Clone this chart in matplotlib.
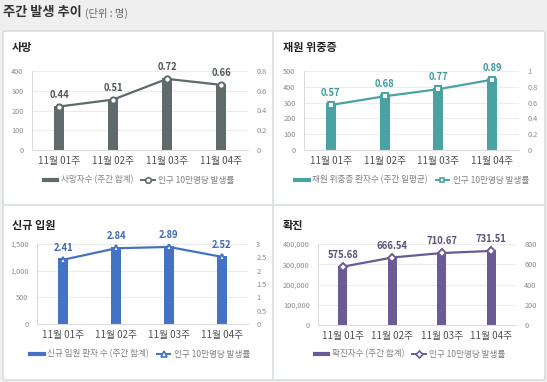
import matplotlib.pyplot as plt
from matplotlib.patches import FancyBboxPatch
from matplotlib.lines import Line2D
from matplotlib.ticker import FuncFormatter, MultipleLocator

plt.rcParams['font.family'] = ['Noto Sans CJK KR', 'DejaVu Sans']

W, H = 547, 382

weeks = ['11월 01주', '11월 02주', '11월 03주', '11월 04주']

death_cnt = [222, 258, 363, 332]
death_rate = [0.44, 0.51, 0.72, 0.66]

icu_cnt = [295, 355, 395, 458]
icu_rate = [0.57, 0.68, 0.77, 0.89]

adm_cnt = [1240, 1445, 1465, 1280]
adm_rate = [2.41, 2.84, 2.89, 2.52]

conf_cnt = [293000, 338000, 360000, 370000]
conf_rate = [575.68, 666.54, 710.67, 731.51]

fig = plt.figure(figsize=(W / 100, H / 100), dpi=100)
fig.patch.set_facecolor('#efefef')


def fx(x):
    return x / W


def fy(y):
    return 1 - y / H


# white board with dividers (kept under the axes)
board = FancyBboxPatch((fx(3), fy(380)), fx(542), (380 - 31) / H,
                       boxstyle='round,pad=0,rounding_size=0.006',
                       transform=fig.transFigure, facecolor='white',
                       edgecolor='#cfd6da', linewidth=1.0, zorder=-10)
fig.patches.append(board)
fig.add_artist(Line2D([fx(273), fx(273)], [fy(31), fy(380)], color='#dde2e5',
                      lw=1.5, zorder=-5))
fig.add_artist(Line2D([fx(3), fx(545)], [fy(205), fy(205)], color='#dde2e5',
                      lw=1.5, zorder=-5))

# header
fig.text(fx(3), fy(12), '주간 발생 추이', fontsize=9.5, fontweight='bold',
         color='#333333', va='center', ha='left')
fig.text(fx(85), fy(13), '(단위 : 명)', fontsize=7.4, color='#666666',
         va='center', ha='left')


def panel(title, tx, ty, box, cnt, rate, ymax, ystep, rmax, rstep,
          color, lblcolor, marker, msize, bar_label, leg_xy, rfmt):
    x0, x1, y0, y1 = box
    fig.text(fx(tx), fy(ty), title, fontsize=8, fontweight='bold',
             color='#222222', va='center', ha='left')
    ax = fig.add_axes([fx(x0), fy(y1), (x1 - x0) / W, (y1 - y0) / H])
    ax.patch.set_alpha(0)
    pos = list(range(len(weeks)))
    ax.bar(pos, cnt, width=0.19, color=color, zorder=2)
    ax.set_xlim(-0.5, len(weeks) - 0.5)
    ax.set_ylim(0, ymax)
    ax.yaxis.set_major_locator(MultipleLocator(ystep))
    ax.yaxis.set_major_formatter(FuncFormatter(lambda v, p: f'{v:,.0f}'))
    ax.grid(axis='y', color='#ececec', lw=0.8, zorder=0)
    ax.set_xticks(pos)
    ax.set_xticklabels(weeks, fontsize=7, color='#505050')
    ax.tick_params(axis='y', labelsize=5.3, colors='#8a8a8a', length=0, pad=6)
    ax.tick_params(axis='x', length=0, pad=4)
    for s in ['top', 'right']:
        ax.spines[s].set_visible(False)
    for s in ['left', 'bottom']:
        ax.spines[s].set_color('#dcdcdc')
        ax.spines[s].set_linewidth(0.8)

    ax2 = ax.twinx()
    ax2.set_ylim(0, rmax)
    ax2.yaxis.set_major_locator(MultipleLocator(rstep))
    ax2.yaxis.set_major_formatter(FuncFormatter(rfmt))
    ax2.tick_params(axis='y', labelsize=5.3, colors='#8a8a8a', length=0, pad=6)
    for s in ax2.spines.values():
        s.set_visible(False)
    ax2.plot(pos, rate, color=color, lw=1.6, marker=marker, ms=msize,
             mfc='white', mec=color, mew=1.4, zorder=3)
    for p, r in zip(pos, rate):
        ax2.annotate(f'{r:.2f}', (p, r), xytext=(0, 5), textcoords='offset points',
                     ha='center', va='bottom', fontsize=6.8, fontweight='bold',
                     color=lblcolor)

    handles = [Line2D([], [], color=color, lw=3),
               Line2D([], [], color=color, lw=1.4, marker=marker, ms=msize - 0.5,
                      mfc='white', mec=color, mew=1.2)]
    fig.legend(handles, [bar_label, '인구 10만명당 발생률'], loc='center',
               bbox_to_anchor=(fx(leg_xy[0]), fy(leg_xy[1])), ncol=2,
               frameon=False, fontsize=6.2, labelcolor='#808080',
               handlelength=1.6, handletextpad=0.4, columnspacing=0.9)
    return ax


panel('사망', 12, 48, (32, 248, 71, 150), death_cnt, death_rate, 400, 100, 0.8, 0.2,
      '#5f6a6a', '#4f5656', 'o', 4.5, '사망자수 (주간 합계)', (139, 180),
      lambda v, p: f'{v:g}')
panel('재원 위중증', 283, 48, (304, 519, 71, 150), icu_cnt, icu_rate, 500, 100, 1.0, 0.2,
      '#4aa3a2', '#3f9a99', 's', 4.0, '재원 위중증 환자수 (주간 일평균)', (412, 180),
      lambda v, p: f'{v:g}')
panel('신규 입원', 12, 225, (37, 248, 244, 324), adm_cnt, adm_rate, 1500, 500, 3, 0.5,
      '#4472c4', '#3d68b5', '^', 4.5, '신규 입원 환자 수 (주간 합계)', (140, 354),
      lambda v, p: f'{v:g}')
panel('확진', 283, 225, (318, 516, 244, 325), conf_cnt, conf_rate, 400000, 100000, 800, 200,
      '#6b5b95', '#5a4f7a', 'D', 4.0, '확진자수 (주간 합계)', (410, 354),
      lambda v, p: f'{v:g}')

fig.savefig('out.png', dpi=100, facecolor=fig.get_facecolor())
